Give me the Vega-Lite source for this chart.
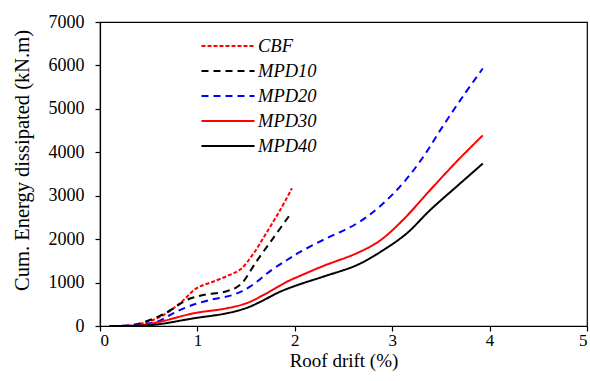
{
  "$schema": "https://vega.github.io/schema/vega-lite/v6.json",
  "width": 487,
  "height": 304,
  "autosize": {"type": "none"},
  "padding": {"left": 100, "top": 22, "right": 3, "bottom": 55},
  "config": {
    "view": {"stroke": "black", "strokeWidth": 1.2},
    "font": "Liberation Serif",
    "axis": {
      "domainColor": "black", "tickColor": "black", "grid": false,
      "labelColor": "black", "titleColor": "black",
      "labelFont": "Liberation Serif", "titleFont": "Liberation Serif",
      "labelFontSize": 18, "titleFontSize": 19, "titleFontWeight": "normal",
      "tickSize": 5, "domainWidth": 1.2, "tickWidth": 1.2
    }
  },
  "data": {"values": [
    {"s": "CBF", "x": 0.1, "y": 0}, {"s": "CBF", "x": 0.3, "y": 10}, {"s": "CBF", "x": 0.45, "y": 70}, {"s": "CBF", "x": 0.62, "y": 214}, {"s": "CBF", "x": 0.82, "y": 522}, {"s": "CBF", "x": 0.99, "y": 868}, {"s": "CBF", "x": 1.16, "y": 1020}, {"s": "CBF", "x": 1.33, "y": 1174}, {"s": "CBF", "x": 1.44, "y": 1300}, {"s": "CBF", "x": 1.57, "y": 1650}, {"s": "CBF", "x": 1.71, "y": 2150}, {"s": "CBF", "x": 1.85, "y": 2671}, {"s": "CBF", "x": 1.97, "y": 3170},
    {"s": "MPD10", "x": 0.1, "y": 0}, {"s": "MPD10", "x": 0.3, "y": 10}, {"s": "MPD10", "x": 0.45, "y": 90}, {"s": "MPD10", "x": 0.62, "y": 240}, {"s": "MPD10", "x": 0.75, "y": 400}, {"s": "MPD10", "x": 0.89, "y": 600}, {"s": "MPD10", "x": 1.06, "y": 714}, {"s": "MPD10", "x": 1.3, "y": 800}, {"s": "MPD10", "x": 1.44, "y": 950}, {"s": "MPD10", "x": 1.61, "y": 1500}, {"s": "MPD10", "x": 1.78, "y": 2030}, {"s": "MPD10", "x": 1.95, "y": 2560},
    {"s": "MPD20", "x": 0.1, "y": 0}, {"s": "MPD20", "x": 0.3, "y": 10}, {"s": "MPD20", "x": 0.45, "y": 40}, {"s": "MPD20", "x": 0.6, "y": 110}, {"s": "MPD20", "x": 0.75, "y": 290}, {"s": "MPD20", "x": 0.92, "y": 460}, {"s": "MPD20", "x": 1.13, "y": 600}, {"s": "MPD20", "x": 1.37, "y": 720}, {"s": "MPD20", "x": 1.54, "y": 905}, {"s": "MPD20", "x": 1.75, "y": 1270}, {"s": "MPD20", "x": 1.92, "y": 1520}, {"s": "MPD20", "x": 2.05, "y": 1700}, {"s": "MPD20", "x": 2.29, "y": 1980}, {"s": "MPD20", "x": 2.64, "y": 2365}, {"s": "MPD20", "x": 2.87, "y": 2747}, {"s": "MPD20", "x": 3.11, "y": 3286}, {"s": "MPD20", "x": 3.32, "y": 3898}, {"s": "MPD20", "x": 3.52, "y": 4600}, {"s": "MPD20", "x": 3.73, "y": 5300}, {"s": "MPD20", "x": 3.93, "y": 5930},
    {"s": "MPD30", "x": 0.1, "y": 0}, {"s": "MPD30", "x": 0.4, "y": 10}, {"s": "MPD30", "x": 0.62, "y": 100}, {"s": "MPD30", "x": 0.96, "y": 292}, {"s": "MPD30", "x": 1.3, "y": 407}, {"s": "MPD30", "x": 1.51, "y": 530}, {"s": "MPD30", "x": 1.71, "y": 753}, {"s": "MPD30", "x": 1.92, "y": 1020}, {"s": "MPD30", "x": 2.05, "y": 1151}, {"s": "MPD30", "x": 2.29, "y": 1380}, {"s": "MPD30", "x": 2.64, "y": 1680}, {"s": "MPD30", "x": 2.87, "y": 1960}, {"s": "MPD30", "x": 3.11, "y": 2441}, {"s": "MPD30", "x": 3.39, "y": 3131}, {"s": "MPD30", "x": 3.66, "y": 3783}, {"s": "MPD30", "x": 3.93, "y": 4390},
    {"s": "MPD40", "x": 0.1, "y": 0}, {"s": "MPD40", "x": 0.45, "y": 10}, {"s": "MPD40", "x": 0.62, "y": 46}, {"s": "MPD40", "x": 0.96, "y": 176}, {"s": "MPD40", "x": 1.3, "y": 292}, {"s": "MPD40", "x": 1.51, "y": 420}, {"s": "MPD40", "x": 1.64, "y": 550}, {"s": "MPD40", "x": 1.85, "y": 790}, {"s": "MPD40", "x": 2.05, "y": 960}, {"s": "MPD40", "x": 2.29, "y": 1135}, {"s": "MPD40", "x": 2.64, "y": 1405}, {"s": "MPD40", "x": 2.91, "y": 1750}, {"s": "MPD40", "x": 3.15, "y": 2134}, {"s": "MPD40", "x": 3.39, "y": 2671}, {"s": "MPD40", "x": 3.66, "y": 3208}, {"s": "MPD40", "x": 3.93, "y": 3740}
  ]},
  "mark": {"type": "line", "interpolate": "catmull-rom", "strokeWidth": 2, "clip": true},
  "encoding": {
    "x": {"field": "x", "type": "quantitative", "scale": {"domain": [0, 5], "nice": false},
      "axis": {"values": [0, 1, 2, 3, 4, 5], "title": "Roof drift (%)", "labelFontSize": 17, "labelPadding": 1, "titleBaseline": "bottom", "titleY": 44}},
    "y": {"field": "y", "type": "quantitative", "scale": {"domain": [0, 7000], "nice": false},
      "axis": {"values": [0, 1000, 2000, 3000, 4000, 5000, 6000, 7000], "format": "d", "title": "Cum. Energy dissipated (kN.m)", "titleFontSize": 20.5, "labelPadding": 11, "titleBaseline": "alphabetic", "titleX": -72, "titleY": 138, "titleAngle": -90}},
    "color": {"field": "s", "type": "nominal",
      "scale": {"domain": ["CBF", "MPD10", "MPD20", "MPD30", "MPD40"], "range": ["#ff0000", "#000000", "#0000ff", "#ff0000", "#000000"]},
      "legend": {"orient": "none", "legendX": 116, "legendY": 12, "title": null, "symbolType": "M-2.5,0H2.5", "symbolSize": 450, "symbolStrokeWidth": 2, "labelFont": "Liberation Serif", "labelFontStyle": "italic", "labelFontSize": 18.5, "labelColor": "black", "rowPadding": 3, "labelOffset": 18}},
    "strokeDash": {"field": "s", "type": "nominal",
      "scale": {"domain": ["CBF", "MPD10", "MPD20", "MPD30", "MPD40"], "range": [[4, 2], [7, 5], [7, 5], [1, 0], [1, 0]]},
      "legend": null}
  }
}
